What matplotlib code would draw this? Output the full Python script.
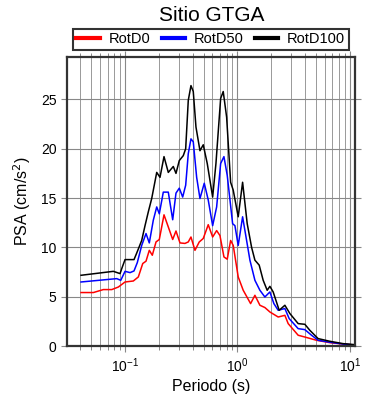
import matplotlib
matplotlib.use("Agg")
import matplotlib.pyplot as plt
from matplotlib.ticker import LogLocator, NullFormatter

plt.rcParams['font.family'] = ['Liberation Sans', 'DejaVu Sans']

title = "Sitio GTGA"
xlabel = "Periodo (s)"
ylabel = "PSA (cm/s$^2$)"
series_names = ["RotD0", "RotD50", "RotD100"]
series_colors = ["red", "blue", "black"]

period_rotd0 = [0.0406, 0.0523, 0.0641, 0.0762, 0.0872, 0.100, 0.1185, 0.1313, 0.1437, 0.1537,
                0.1644, 0.1748, 0.1887, 0.2018, 0.2222, 0.2426, 0.2655, 0.2840, 0.3083, 0.3414,
                0.3653, 0.3860, 0.4190, 0.4575, 0.4966, 0.5500, 0.6019, 0.6533, 0.6990, 0.7586,
                0.8116, 0.8700, 0.9177, 1.0165, 1.126, 1.310, 1.431, 1.585, 1.755, 1.945,
                2.305, 2.644, 2.829, 3.471, 3.981, 5.058, 6.640, 8.718, 11.0]
psa_rotd0 = [5.42, 5.42, 5.72, 5.72, 5.98, 6.49, 6.59, 7.0, 8.36, 8.6,
             9.7, 9.2, 10.55, 10.8, 13.3, 12.07, 10.8, 11.66, 10.45, 10.4,
             10.55, 11.05, 9.7, 10.55, 10.9, 12.3, 11.05, 11.7, 11.2, 9.03,
             8.8, 10.7, 10.2, 7.0, 5.65, 4.3, 5.14, 4.13, 3.9, 3.45,
             2.94, 3.11, 2.27, 1.09, 0.91, 0.58, 0.34, 0.2, 0.1]

period_rotd50 = [0.0406, 0.0844, 0.0916, 0.100, 0.1108, 0.1202, 0.1286, 0.1407, 0.1537, 0.1644,
                 0.1784, 0.1914, 0.2018, 0.2190, 0.2426, 0.2655, 0.2840, 0.3039, 0.3258, 0.3464,
                 0.3653, 0.3860, 0.4047, 0.4338, 0.4642, 0.5069, 0.5500, 0.6019, 0.6533, 0.7091,
                 0.7586, 0.8116, 0.9064, 0.9501, 1.0165, 1.112, 1.207, 1.292, 1.431, 1.585,
                 1.755, 1.945, 2.110, 2.305, 2.644, 2.887, 3.471, 3.981, 4.566, 5.226,
                 6.640, 8.718, 11.0]
psa_rotd50 = [6.49, 6.83, 6.66, 7.57, 7.44, 7.61, 8.46, 10.2, 11.4, 10.45,
              12.75, 14.1, 13.4, 15.6, 15.6, 12.8, 15.5, 16.0, 15.1, 16.3,
              19.5, 21.0, 20.7, 17.1, 14.95, 16.5, 14.8, 12.2, 14.1, 18.5,
              19.2, 17.3, 12.4, 12.2, 10.2, 13.1, 10.7, 8.7, 6.66, 5.65,
              4.97, 5.48, 4.3, 3.62, 3.8, 2.78, 1.76, 1.66, 1.09, 0.58,
              0.38, 0.2, 0.1]

period_rotd100 = [0.0406, 0.0787, 0.0903, 0.0935, 0.100, 0.1202, 0.1271, 0.1407, 0.1506, 0.1611,
                  0.1727, 0.1914, 0.2047, 0.2222, 0.2426, 0.2688, 0.2840, 0.3039, 0.3298, 0.3464,
                  0.3653, 0.3860, 0.4047, 0.4277, 0.4642, 0.4966, 0.5389, 0.6019, 0.6440, 0.7091,
                  0.7476, 0.8017, 0.8700, 0.9177, 1.0165, 1.112, 1.222, 1.337, 1.431, 1.562,
                  1.695, 1.840, 1.945, 2.080, 2.353, 2.644, 2.929, 3.471, 3.981, 4.411,
                  5.226, 6.640, 8.718, 11.0]
psa_rotd100 = [7.17, 7.57, 7.34, 7.85, 8.76, 8.76, 9.43, 10.7, 12.2, 13.6,
               14.95, 17.6, 17.1, 19.2, 17.6, 18.2, 17.5, 18.8, 19.3, 20.0,
               24.9, 26.4, 25.8, 22.2, 19.8, 20.4, 18.5, 15.1, 18.5, 25.1,
               25.8, 23.2, 16.6, 15.8, 13.1, 16.6, 12.4, 10.0, 8.7, 8.2,
               6.66, 5.65, 6.05, 5.48, 3.62, 4.13, 3.29, 2.27, 2.2, 1.59,
               0.75, 0.48, 0.24, 0.14]

yticks = [0, 5, 10, 15, 20, 25]

fig = plt.figure(figsize=(3.9, 4.0), dpi=100)
ax = fig.add_axes([0.172, 0.135, 0.738, 0.7225])

periods = [period_rotd0, period_rotd50, period_rotd100]
values = [psa_rotd0, psa_rotd50, psa_rotd100]
handles = []
for p, v, c, n in zip(periods, values, series_colors, series_names):
    h, = ax.plot(p, v, color=c, lw=1.1, label=n)
    handles.append(h)

ax.set_xscale('log')
ax.set_xlim(0.0305, 11.1)
ax.set_ylim(0, 29.3)
ax.set_yticks(yticks)
ax.xaxis.set_major_locator(LogLocator(base=10, numticks=10))
ax.xaxis.set_minor_locator(LogLocator(base=10, subs=range(2, 10), numticks=20))
ax.xaxis.set_minor_formatter(NullFormatter())

ax.grid(True, which='major', color='#888888', lw=0.8)
ax.grid(True, which='minor', axis='x', color='#999999', lw=0.7)
ax.set_axisbelow(True)

ax.tick_params(which='both', direction='out', top=True, right=True,
               color='#888888', labelsize=10)
ax.tick_params(which='major', length=4, width=0.8)
ax.tick_params(which='minor', length=3, width=0.7)
for s in ax.spines.values():
    s.set_linewidth(1.6)
    s.set_color('#333333')

ax.set_xlabel(xlabel, fontsize=11.5, labelpad=3)
ax.set_ylabel(ylabel, fontsize=11.5, labelpad=6)

fig.text(0.543, 0.962, title, ha='center', va='center', fontsize=15)

leg = fig.legend(handles=handles, loc='center', ncol=3, mode='expand',
                 bbox_to_anchor=(0.1865, 0.873, 0.708, 0.058),
                 fontsize=10.5, frameon=True, fancybox=False, edgecolor='black',
                 handlelength=1.6, handletextpad=0.6, borderpad=0.25,
                 columnspacing=1.0, borderaxespad=0)
leg.get_frame().set_linewidth(1.5)
for lh in leg.get_lines():
    lh.set_linewidth(3)

fig.savefig('out.png', dpi=100)
